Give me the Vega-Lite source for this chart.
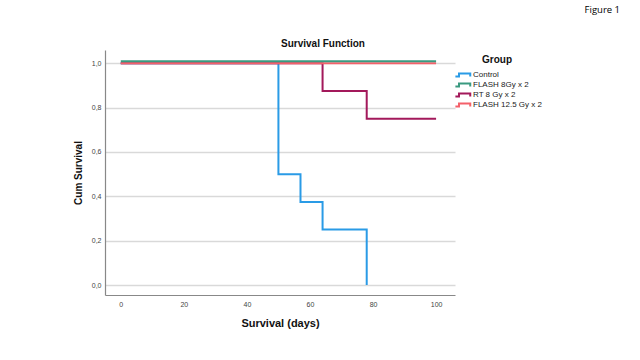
{
  "$schema": "https://vega.github.io/schema/vega-lite/v6.json",
  "padding": {"left": 73, "top": 4, "right": 5, "bottom": 5},
  "background": "white",
  "title": {"text": "Figure 1", "anchor": "end", "font": "Open Sans", "fontSize": 9.5, "fontWeight": "normal", "color": "#000", "dx": 78, "offset": 25},
  "config": {"view": {"stroke": null}, "font": "Liberation Sans"},
  "datasets": {
    "km": [
      {"group": "Control", "time": 0, "surv": 1},
      {"group": "Control", "time": 50, "surv": 0.5},
      {"group": "Control", "time": 57, "surv": 0.375},
      {"group": "Control", "time": 64, "surv": 0.25},
      {"group": "Control", "time": 78, "surv": 0},
      {"group": "RT 8 Gy x 2", "time": 0, "surv": 1},
      {"group": "RT 8 Gy x 2", "time": 64, "surv": 0.875},
      {"group": "RT 8 Gy x 2", "time": 78, "surv": 0.75},
      {"group": "RT 8 Gy x 2", "time": 100, "surv": 0.75},
      {"group": "FLASH 12.5 Gy x 2", "time": 0, "surv": 1},
      {"group": "FLASH 12.5 Gy x 2", "time": 100, "surv": 1},
      {"group": "FLASH 8Gy x 2", "time": 0, "surv": 1},
      {"group": "FLASH 8Gy x 2", "time": 100, "surv": 1}
    ]
  },
  "vconcat": [
    {
      "width": 350,
      "height": 245,
      "title": {"text": "Survival Function", "fontSize": 10, "fontWeight": "bold", "color": "#111", "offset": 1, "dx": 43},
      "data": {"name": "km"},
      "encoding": {
        "x": {"field": "time", "type": "quantitative", "scale": {"domain": [-5, 106], "nice": false, "zero": false},
          "axis": {"values": [0, 20, 40, 60, 80, 100], "title": "Survival (days)", "grid": false, "ticks": false, "labelFontSize": 7, "labelColor": "#444", "labelPadding": 5, "titleFontSize": 11, "titleFontWeight": "bold", "titleColor": "#111", "titlePadding": 10, "domainColor": "#888", "domainWidth": 1.2}},
        "y": {"field": "surv", "type": "quantitative", "scale": {"domain": [-0.045, 1.06], "nice": false, "zero": false},
          "axis": {"values": [0, 0.2, 0.4, 0.6, 0.8, 1.0], "title": "Cum Survival", "ticks": false, "grid": true, "gridColor": "#d9d9d9", "gridWidth": 1.5, "labelExpr": "replace(format(datum.value, '.1f'), '.', ',')", "labelFontSize": 7, "labelColor": "#444", "labelPadding": 4, "titleFontSize": 10, "titleFontWeight": "bold", "titleColor": "#111", "titlePadding": 8, "domainColor": "#888", "domainWidth": 1.2}},
        "color": {"field": "group", "type": "nominal",
          "scale": {"domain": ["Control", "FLASH 8Gy x 2", "RT 8 Gy x 2", "FLASH 12.5 Gy x 2"], "range": ["#2a9be6", "#3a9a80", "#a3195b", "#f4606a"]},
          "legend": {"title": "Group", "orient": "none", "legendX": 347, "legendY": 5, "titleFontSize": 10, "titleFontWeight": "bold", "titleColor": "#111", "titleAnchor": "middle", "titlePadding": 5,
            "labelFontSize": 8, "labelColor": "#222", "labelOffset": 4, "rowPadding": 0, "clipHeight": 10,
            "symbolType": "M -1.8 0.35 H -1 V -0.35 H 1.5 V 0.35", "symbolSize": 81, "symbolStrokeWidth": 2, "symbolFillColor": "transparent", "symbolOffset": 6}}
      },
      "layer": [
        {"transform": [{"filter": "datum.group == 'Control' || datum.group == 'RT 8 Gy x 2'"}],
         "mark": {"type": "line", "interpolate": "step-after", "strokeWidth": 2}},
        {"transform": [{"filter": "datum.group == 'FLASH 12.5 Gy x 2'"}],
         "mark": {"type": "line", "interpolate": "step-after", "strokeWidth": 2}},
        {"transform": [{"filter": "datum.group == 'FLASH 8Gy x 2'"}],
         "mark": {"type": "line", "interpolate": "step-after", "strokeWidth": 2, "yOffset": -2}}
      ]
    }
  ]
}
